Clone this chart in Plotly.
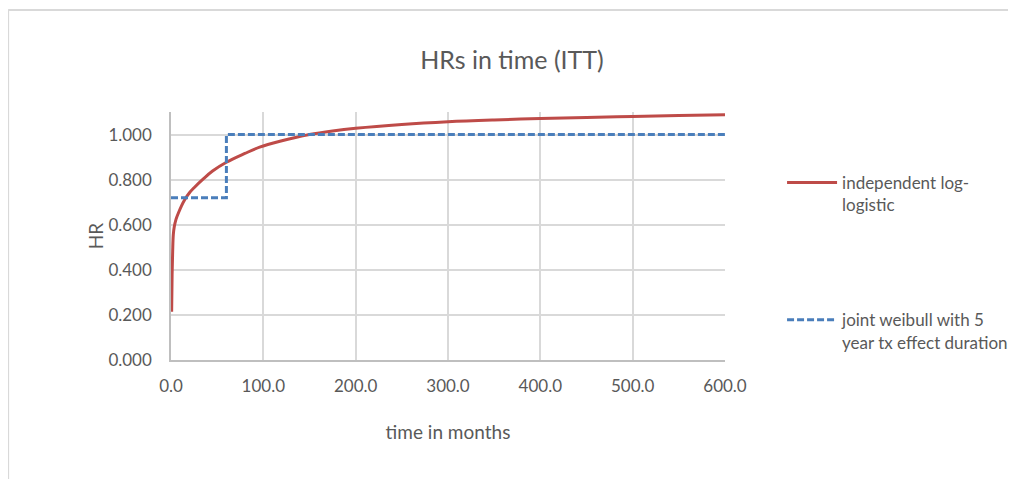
import plotly.graph_objects as go

# independent log-logistic HR
ll_time = [0.7, 1.2, 1.8, 2.5, 3.5, 5.4, 8, 11.5, 15, 20, 25, 35, 45, 60, 80, 96, 118,
           150, 175, 200, 250, 300, 350, 400, 450, 500, 550, 600]
ll_hr = [0.214, 0.38, 0.48, 0.556, 0.59, 0.624, 0.652, 0.685, 0.712, 0.742, 0.764, 0.803,
         0.838, 0.877, 0.916, 0.944, 0.970, 1.000, 1.016, 1.028, 1.045, 1.057, 1.065,
         1.071, 1.076, 1.080, 1.084, 1.088]

# joint weibull with 5 year tx effect duration (step)
jw_time = [0, 60, 60, 600]
jw_hr = [0.72, 0.72, 1.0, 1.0]

x_ticks = [0, 100, 200, 300, 400, 500, 600]
y_ticks = [0, 0.2, 0.4, 0.6, 0.8, 1.0]

font = "Lato"
grey = "#595959"

fig = go.Figure()
fig.add_trace(go.Scatter(x=ll_time, y=ll_hr, mode="lines", line_shape="spline",
                         name="independent log-<br>logistic", legendgroup="a",
                         line=dict(color="#be4b48", width=3)))
fig.add_trace(go.Scatter(x=jw_time, y=jw_hr, mode="lines", legendgroup="b",
                         name="joint weibull with 5<br>year tx effect duration",
                         line=dict(color="#4a7ebb", width=3, dash="7px,3px")))

fig.update_layout(
    width=1000, height=471, autosize=False,
    margin=dict(l=163, r=283, t=104, b=119, autoexpand=False),
    paper_bgcolor="white", plot_bgcolor="white",
    font=dict(family=font, color=grey, size=17),
    title=dict(text="HRs in time (ITT)", x=0.504, xanchor="center", y=0.89, yanchor="middle",
               font=dict(size=25, color=grey, family=font)),
    legend=dict(x=1.103, y=0.786, xanchor="left", yanchor="top", valign="top",
                tracegroupgap=90, traceorder="grouped", itemwidth=50,
                font=dict(size=17, color=grey, family=font)),
    xaxis=dict(range=[0, 600], tickvals=x_ticks, ticktext=[f"{v:.1f}" for v in x_ticks],
               showgrid=True, gridcolor="#d9d9d9", gridwidth=1.5,
               showline=True, linecolor="#bfbfbf", linewidth=1.5,
               zeroline=False, ticks="", ticklen=0, ticklabelstandoff=10,
               title=dict(text="time in months", font=dict(size=19, color=grey), standoff=31)),
    yaxis=dict(range=[0, 1.1], tickvals=y_ticks, ticktext=[f"{v:.3f}" for v in y_ticks],
               showgrid=True, gridcolor="#d9d9d9", gridwidth=1.5,
               showline=True, linecolor="#bfbfbf", linewidth=1.5,
               zeroline=False, ticks="", ticklen=0, ticklabelstandoff=14,
               title=dict(text="HR", font=dict(size=19, color=grey), standoff=0)),
)

# outer chart border (only top and left edges are in view)
border = dict(color="#d9d9d9", width=2)
fig.add_shape(type="line", xref="paper", yref="paper", x0=-0.294, x1=3, y0=1.411, y1=1.411,
              line=border, layer="below")
fig.add_shape(type="line", xref="paper", yref="paper", x0=-0.294, x1=-0.294, y0=-1, y1=1.411,
              line=border, layer="below")

fig.write_html("out.html")
